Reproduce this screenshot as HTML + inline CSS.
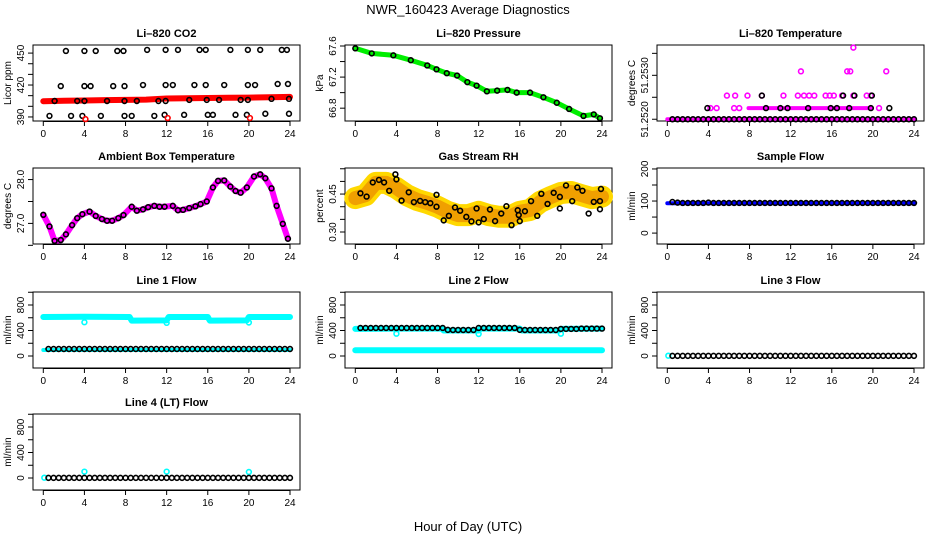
<!DOCTYPE html>
<html><head><meta charset="utf-8"><style>
html,body{margin:0;padding:0;background:#fff;}
svg{display:block;font-family:"Liberation Sans",sans-serif;}
</style></head><body>
<svg id="chart" width="936" height="540" viewBox="0 0 936 540" xmlns="http://www.w3.org/2000/svg">
<text x="468" y="14" font-size="13" text-anchor="middle">NWR_160423  Average Diagnostics</text>
<text x="468" y="531" font-size="13" text-anchor="middle">Hour of Day (UTC)</text>
</svg>
<script>
// ---------- data ----------
const HALF_HOURS = [0.5,1,1.5,2,2.5,3,3.5,4,4.5,5,5.5,6,6.5,7,7.5,8,8.5,9,9.5,10,10.5,11,11.5,12,12.5,13,13.5,14,14.5,15,15.5,16,16.5,17,17.5,18,18.5,19,19.5,20,20.5,21,21.5,22,22.5,23,23.5,24];
const X_TICKS = [0,4,8,12,16,20,24];

// CO2
const co2BandHours = [0,2,4,6,8,10,12,14,16,18,20,22,24];
const co2BandValues = [404.8,405.2,405.5,405.8,406,406.3,407.3,407.6,407.8,408,408.2,408.5,408.8];
const co2TopHours = [2.2,4.0,5.1,7.2,7.8,10.1,11.9,13.1,15.2,15.8,18.2,19.9,21.1,23.2,23.7];
const co2TopValues = [452,452,452,452,452,453,453,453,453,453,453,453,453,453,453];
const co2MidHours = [1.7,4.0,4.6,6.8,7.9,9.7,11.9,12.6,14.7,15.8,17.6,19.9,20.6,22.8,23.8];
const co2MidValues = [419,419,419,419,419,420,420,420,420,420,420,420,420,421,421];
const co2BandPtHours = [1.1,3.3,4.0,6.2,7.9,9.1,11.2,11.9,14.2,15.9,17.1,19.2,19.9,22.2,23.9];
const co2BandPtValues = [405,405,405,405,405,405,405,405,406,406,406,406,406,407,407];
const co2LowHours = [0.6,2.7,3.8,5.6,7.9,8.6,10.8,11.8,13.7,16.0,16.5,18.7,19.8,21.6,23.9];
const co2LowValues = [391,391,391,391,391,391,391,392,392,392,392,392,392,393,393];
const co2RedOutHours = [4.1,12.1,20.1];
const co2RedOutValues = [388,389,389];

// Pressure
const presHours = [0,1.6,3.7,5.4,7.0,7.9,8.9,9.9,10.9,11.8,12.8,13.8,14.8,15.7,17.0,18.3,19.6,20.8,22.2,23.2,23.8];
const presValues = [67.57,67.505,67.48,67.417,67.35,67.30,67.25,67.22,67.135,67.09,67.017,67.026,67.035,67.0,67.0,66.94,66.87,66.79,66.70,66.72,66.67];

// Li-820 temperature (offset units of 1e-4 degC above 51.2520)
const tempMagBandHours = [0,24];
const tempMagBandValues = [0,0];
const tempMagL1BandHours = [7.9,19.9];
const tempMagL1BandValues = [0.254,0.254];
const tempMagHours = [4.2,4.8,6.5,7.0,20.6,5.8,6.6,7.8,9.2,11.3,12.7,13.3,13.8,14.3,15.4,15.8,16.2,17.0,18.1,19.4,19.8,13.0,17.5,17.8,21.3,18.1];
const tempMagValues = [0.254,0.254,0.254,0.254,0.254,0.538,0.538,0.538,0.538,0.538,0.538,0.538,0.538,0.538,0.538,0.538,0.538,0.538,0.538,0.538,0.538,1.09,1.09,1.09,1.09,1.63];
const tempBlackHours = [3.9,9.6,11.0,11.7,13.7,15.9,16.5,17.7,19.8,21.6,9.2,17.1,18.2,19.9];
const tempBlackValues = [0.254,0.254,0.254,0.254,0.254,0.254,0.254,0.254,0.254,0.254,0.538,0.538,0.538,0.538];
const tempBaseValues = [0,0,0,0,0,0,0,0,0,0,0,0,0,0,0,0,0,0,0,0,0,0,0,0,0,0,0,0,0,0,0,0,0,0,0,0,0,0,0,0,0,0,0,0,0,0,0,0];

// Ambient box temperature
const ambHours = [0,0.6,1.1,1.7,2.2,2.8,3.3,3.8,4.5,5.1,5.7,6.2,6.7,7.3,7.8,8.6,9.1,9.7,10.2,10.8,11.3,11.8,12.6,13.1,13.6,14.2,14.8,15.3,15.9,16.5,17.0,17.6,18.2,18.7,19.2,19.8,20.5,21.1,21.6,22.2,22.7,23.3,23.8];
const ambValues = [27.196,26.93,26.60,26.62,26.75,26.96,27.12,27.21,27.27,27.17,27.10,27.06,27.06,27.12,27.19,27.38,27.29,27.32,27.37,27.40,27.38,27.38,27.40,27.30,27.31,27.35,27.39,27.44,27.50,27.82,27.97,27.98,27.84,27.74,27.70,27.82,28.07,28.12,28.03,27.80,27.40,26.99,26.65];

// Gas stream RH
const rhCloudHours = [0,1,2,3,4,5,6,7,8,9,10,11,12,13,14,15,16,17,18,19,20,21,22,23,24];
const rhCloudValues = [0.434,0.446,0.494,0.494,0.474,0.446,0.427,0.415,0.40,0.38,0.367,0.367,0.38,0.367,0.36,0.36,0.38,0.387,0.419,0.438,0.454,0.458,0.446,0.434,0.44];
const rhHours = [0.5,1.1,1.7,2.3,2.8,3.3,3.9,4.0,4.5,5.2,5.7,6.3,6.8,7.3,7.9,7.9,8.6,9.1,9.7,10.2,10.8,11.3,11.8,12.0,12.5,13.1,13.6,14.2,14.7,15.2,15.8,15.9,16.0,16.5,17.1,17.7,18.1,18.7,19.3,19.9,19.9,20.5,21.1,21.6,22.1,22.7,23.2,23.8,23.9,23.8];
const rhValues = [0.453,0.440,0.496,0.506,0.496,0.463,0.528,0.508,0.424,0.457,0.418,0.423,0.418,0.414,0.447,0.40,0.346,0.364,0.397,0.384,0.36,0.342,0.393,0.338,0.351,0.389,0.343,0.373,0.402,0.327,0.386,0.367,0.343,0.382,0.422,0.364,0.451,0.411,0.455,0.439,0.393,0.484,0.422,0.476,0.463,0.373,0.419,0.422,0.47,0.39];

// Sample flow
const sampleBlueHours = [0,24];
const sampleBlueValues = [93,93];
const sampleBlackValues = [97,95,94,94,94,94,94,95,94,94,94,94,94,94,94,94,94,94,94,94,94,94,94,94,94,94,94,94,94,94,94,94,94,94,94,94,94,94,94,94,94,94,94,94,94,94,94,94];

// Line 1 flow
const line1CyanHours = [0,4,8.4,8.6,12,12.2,16,16.2,19.8,20,24];
const line1CyanValues = [612,615,612,555,558,612,612,555,558,612,612];
const line1CyanLowHours = [0,24];
const line1CyanLowValues = [95,95];
const line1CyanOutHours = [4,12,20];
const line1CyanOutValues = [530,520,525];
const line1BlackValues = [110,110,110,110,110,110,110,110,110,110,110,110,110,110,110,110,110,110,110,110,110,110,110,110,110,110,110,110,110,110,110,110,110,110,110,110,110,110,110,110,110,110,110,110,110,110,110,110];

// Line 2 flow
const line2CyanHours = [0,4,8.4,8.6,12,12.2,16,16.2,19.8,20,24];
const line2CyanValues = [425,430,430,400,400,430,430,400,400,425,430];
const line2CyanLowHours = [0,24];
const line2CyanLowValues = [90,90];
const line2CyanOutHours = [4,12,20];
const line2CyanOutValues = [350,345,350];
const line2BlackValues = [440,440,440,440,440,440,440,440,440,440,440,440,440,440,440,440,440,410,408,408,408,408,408,440,440,440,440,440,440,440,440,410,408,408,408,408,408,408,408,425,425,425,425,430,430,430,430,430];

// Line 3 flow
const line3CyanHours = [0.1];
const line3CyanValues = [5];
const line3BlackValues = [2,2,2,2,2,2,2,2,2,2,2,2,2,2,2,2,2,2,2,2,2,2,2,2,2,2,2,2,2,2,2,2,2,2,2,2,2,2,2,2,2,2,2,2,2,2,2,2];

// Line 4 flow
const line4CyanHours = [0.1,4,12,20];
const line4CyanValues = [5,100,100,95];
const line4BlackValues = [2,2,2,2,2,2,2,2,2,2,2,2,2,2,2,2,2,2,2,2,2,2,2,2,2,2,2,2,2,2,2,2,2,2,2,2,2,2,2,2,2,2,2,2,2,2,2,2];

// ---------- layout ----------
const svg = document.getElementById('chart');
const NS = 'http://www.w3.org/2000/svg';
const COLS = [33,345,657], ROWS = [45,168,292,414], W = 267, H = 76;

function mk(tag, attrs, parent){
  const el = document.createElementNS(NS, tag);
  for (const k in attrs) el.setAttribute(k, attrs[k]);
  (parent||svg).appendChild(el);
  return el;
}
function xs(p,h){ return COLS[p.c] + 10.3 + h*246.7/24; }
function ys(p,v){ return ROWS[p.r] + H*(p.ymax - v)/(p.ymax - p.ymin); }

function panel(p){
  const g = mk('g', {});
  
  
  const L = COLS[p.c], T = ROWS[p.r];
  const box = mk('rect', {x:L, y:T, width:W, height:H, fill:'none', stroke:'#000', 'stroke-width':1}, g);
  
  
  const t = mk('text', {x:L+W/2, y:T-8, 'font-size':11, 'font-weight':'bold', 'text-anchor':'middle'}, g);
  t.textContent = p.title;
  
  
  X_TICKS.forEach(h => {
    const x = xs(p,h);
    const tk = mk('line', {x1:x, x2:x, y1:T+H, y2:T+H+5, stroke:'#000'}, g);
    
    
    const lb = mk('text', {x:x, y:T+H+16, 'font-size':10, 'text-anchor':'middle'}, g);
    lb.textContent = h;
    
    
  });
  const ax = mk('line', {x1:xs(p,0), x2:xs(p,24), y1:T+H+0.5, y2:T+H+0.5, stroke:'#000'}, g);
  
  
  p.yTicks.forEach(v => {
    const y = ys(p,v);
    const tk = mk('line', {x1:L-5, x2:L, y1:y, y2:y, stroke:'#000'}, g);
    
    
  });
  p.yLabels.forEach((s,i) => {
    const y = ys(p, p.yLabelVals[i]);
    const lb = mk('text', {x:L-9, y:y, 'font-size':10, 'text-anchor':'middle', transform:'rotate(-90 '+(L-9)+' '+y+')'}, g);
    lb.textContent = s;
    
    
  });
  const yl = mk('text', {x:L-22, y:T+H/2, 'font-size':10, 'text-anchor':'middle', transform:'rotate(-90 '+(L-22)+' '+(T+H/2)+')'}, g);
  yl.textContent = p.ylab;
  
  
  return g;
}
function line(p, hours, vals, color, width, name){
  const pts = hours.map((h,i) => xs(p,h).toFixed(1) + ',' + ys(p,vals[i]).toFixed(1)).join(' ');
  const el = mk('polyline', {points:pts, fill:'none', stroke:color, 'stroke-width':width, 'stroke-linejoin':'round', 'stroke-linecap':'round'});
  
  
}
function points(p, hours, vals, color, name){
  hours.forEach((h,i) => {
    const el = mk('circle', {cx:xs(p,h), cy:ys(p,vals[i]), r:2.4, fill:'none', stroke:color, 'stroke-width':1.6});
    
    
  });
}

// ---------- panels ----------
const pCO2 = {name:'co2', c:0, r:0, title:'Li\u2013820 CO2', ylab:'Licor ppm', ymin:386.2, ymax:457.6, yTicks:[390,400,410,420,430,440,450], yLabels:['390','420','450'], yLabelVals:[390,420,450]};
panel(pCO2);
line(pCO2, co2BandHours, co2BandValues, '#ff0000', 6, 'co2-red-band');
points(pCO2, co2TopHours, co2TopValues, '#000', 'co2-point');
points(pCO2, co2MidHours, co2MidValues, '#000', 'co2-point');
points(pCO2, co2BandPtHours, co2BandPtValues, '#000', 'co2-point');
points(pCO2, co2LowHours, co2LowValues, '#000', 'co2-point');
points(pCO2, co2RedOutHours, co2RedOutValues, '#ff0000', 'co2-red-point');

const pPres = {name:'pressure', c:1, r:0, title:'Li\u2013820 Pressure', ylab:'kPa', ymin:66.635, ymax:67.613, yTicks:[66.8,67.0,67.2,67.4,67.6], yLabels:['66.8','67.2','67.6'], yLabelVals:[66.8,67.2,67.6]};
panel(pPres);
line(pPres, presHours, presValues, '#00ee00', 5, 'pressure-green-line');
points(pPres, presHours, presValues, '#000', 'pressure-point');

const pTemp = {name:'li820-temp', c:2, r:0, title:'Li\u2013820 Temperature', ylab:'degrees C', ymin:-0.04, ymax:1.69, yTicks:[0,0.5,1,1.5], yLabels:['51.2520','51.2530'], yLabelVals:[0,1.0]};
panel(pTemp);
line(pTemp, tempMagBandHours, tempMagBandValues, '#ff00ff', 4, 'temp-magenta-band');
line(pTemp, tempMagL1BandHours, tempMagL1BandValues, '#ff00ff', 4, 'temp-magenta-band');
points(pTemp, tempMagHours, tempMagValues, '#ff00ff', 'temp-magenta-point');
points(pTemp, HALF_HOURS, tempBaseValues, '#000', 'temp-black-point');
points(pTemp, tempBlackHours, tempBlackValues, '#000', 'temp-black-point');

const pAmb = {name:'ambient-temp', c:0, r:1, title:'Ambient Box Temperature', ylab:'degrees C', ymin:26.53, ymax:28.264, yTicks:[26.5,27.0,27.5,28.0], yLabels:['27.0','28.0'], yLabelVals:[27.0,28.0]};
panel(pAmb);
line(pAmb, ambHours, ambValues, '#ff00ff', 6, 'ambient-magenta-line');
points(pAmb, ambHours, ambValues, '#000', 'ambient-point');

const pRH = {name:'rh', c:1, r:1, title:'Gas Stream RH', ylab:'percent', ymin:0.2526, ymax:0.553, yTicks:[0.30,0.35,0.40,0.45,0.50,0.55], yLabels:['0.30','0.45'], yLabelVals:[0.30,0.45]};
panel(pRH);
line(pRH, rhCloudHours, rhCloudValues, '#ffd800', 22, 'rh-yellow-cloud');
line(pRH, rhCloudHours, rhCloudValues, '#f0a000', 14, 'rh-orange-cloud');
points(pRH, rhHours, rhValues, '#000', 'rh-point');

const pSample = {name:'sample-flow', c:2, r:1, title:'Sample Flow', ylab:'ml/min', ymin:-34, ymax:203, yTicks:[0,50,100,150,200], yLabels:['0','100','200'], yLabelVals:[0,100,200]};
panel(pSample);
line(pSample, sampleBlueHours, sampleBlueValues, '#0000ff', 4, 'sample-blue-line');
points(pSample, HALF_HOURS, sampleBlackValues, '#000', 'sample-point');

function flowPanel(name, c, r, title){
  return {name:name, c:c, r:r, title:title, ylab:'ml/min', ymin:-188, ymax:1004, yTicks:[0,200,400,600,800,1000], yLabels:['0','400','800'], yLabelVals:[0,400,800]};
}
const pL1 = flowPanel('line1-flow', 0, 2, 'Line 1 Flow');
panel(pL1);
line(pL1, line1CyanHours, line1CyanValues, '#00ffff', 6, 'line1-cyan-band');
line(pL1, line1CyanLowHours, line1CyanLowValues, '#00ffff', 4, 'line1-cyan-low');
points(pL1, line1CyanOutHours, line1CyanOutValues, '#00ffff', 'line1-cyan-point');
points(pL1, HALF_HOURS, line1BlackValues, '#000', 'line1-point');

const pL2 = flowPanel('line2-flow', 1, 2, 'Line 2 Flow');
panel(pL2);
line(pL2, line2CyanHours, line2CyanValues, '#00ffff', 6, 'line2-cyan-band');
line(pL2, line2CyanLowHours, line2CyanLowValues, '#00ffff', 6, 'line2-cyan-low');
points(pL2, line2CyanOutHours, line2CyanOutValues, '#00ffff', 'line2-cyan-point');
points(pL2, HALF_HOURS, line2BlackValues, '#000', 'line2-point');

const pL3 = flowPanel('line3-flow', 2, 2, 'Line 3 Flow');
panel(pL3);
points(pL3, line3CyanHours, line3CyanValues, '#00ffff', 'line3-cyan-point');
points(pL3, HALF_HOURS, line3BlackValues, '#000', 'line3-point');

const pL4 = flowPanel('line4-flow', 0, 3, 'Line 4 (LT) Flow');
panel(pL4);
points(pL4, line4CyanHours, line4CyanValues, '#00ffff', 'line4-cyan-point');
points(pL4, HALF_HOURS, line4BlackValues, '#000', 'line4-point');
</script>
</body></html>
